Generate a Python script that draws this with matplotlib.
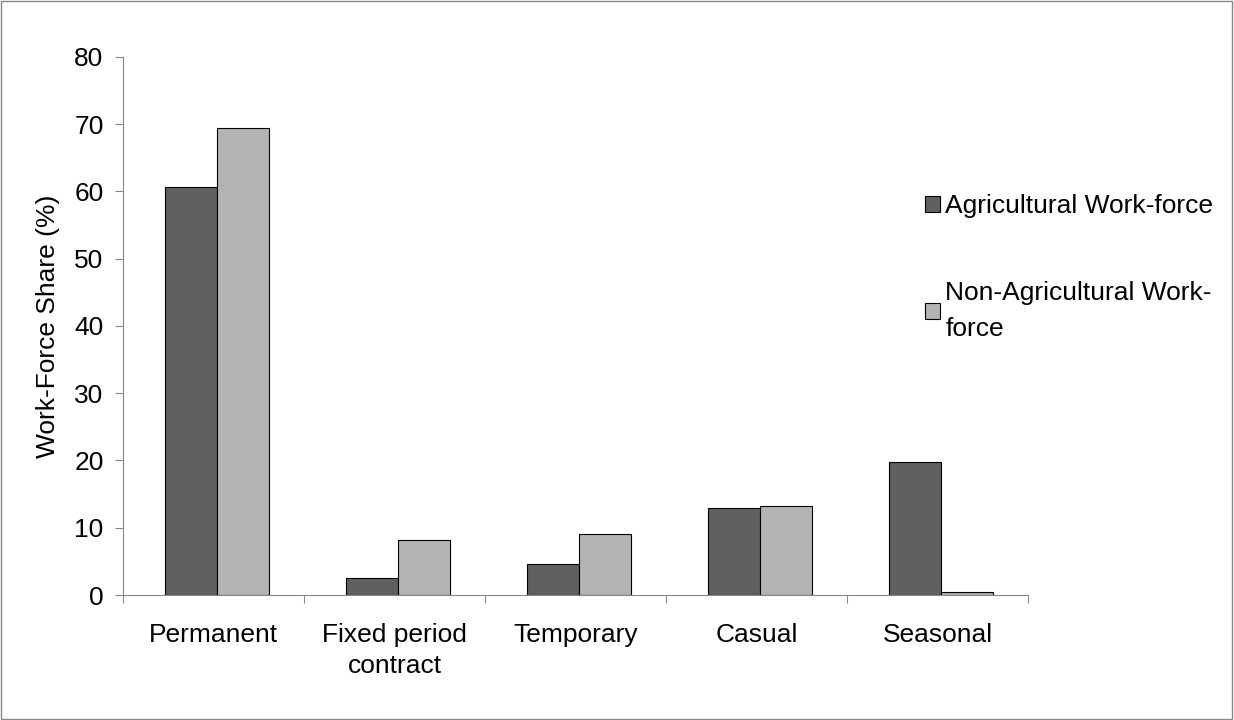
import numpy as np
import matplotlib.pyplot as plt
from matplotlib.patches import Rectangle

categories = ["Permanent", "Fixed period\ncontract", "Temporary", "Casual", "Seasonal"]
agri = [60.6, 2.5, 4.6, 12.9, 19.8]
non_agri = [69.4, 8.2, 9.1, 13.3, 0.4]
yticks = [0, 10, 20, 30, 40, 50, 60, 70, 80]

plt.rcParams['font.family'] = ['Liberation Sans', 'DejaVu Sans']
plt.rcParams['font.size'] = 19

fig = plt.figure(figsize=[12.34, 7.2], dpi=100)
fig.patches.append(Rectangle((0.001, 0.001), 0.997, 0.997, transform=fig.transFigure,
                             fill=False, edgecolor='#888888', linewidth=1))
ax = fig.add_axes([0.0997, 0.1736, 0.7333, 0.7474])

x = np.arange(len(categories))
w = 0.287
ax.bar(x - w/2 + 0.02, agri, w, color='#606060', edgecolor='black', linewidth=0.8,
       label='Agricultural Work-force')
ax.bar(x + w/2 + 0.02, non_agri, w, color='#b3b3b3', edgecolor='black', linewidth=0.8,
       label='Non-Agricultural Work-\nforce')

ax.set_xlim(-0.5, 4.5)
ax.set_ylim(0, 80)
ax.set_yticks(yticks)
ax.set_xticks(np.arange(-0.5, 5, 1))
ax.set_xticklabels([])
ax.set_xticks(x, minor=True)
ax.set_xticklabels(categories, minor=True, linespacing=1.4)
ax.tick_params(axis='x', which='minor', length=0, pad=20)
ax.tick_params(axis='x', which='major', length=6, color='#888888')
ax.tick_params(axis='y', length=6, color='#888888', pad=8)
ax.spines['top'].set_visible(False)
ax.spines['right'].set_visible(False)
ax.spines['left'].set_color('#888888')
ax.spines['bottom'].set_color('#888888')
ax.set_ylabel("Work-Force Share (%)", labelpad=10)

leg = ax.legend(loc='upper left', bbox_to_anchor=(0.875, 0.765), frameon=False,
                handlelength=0.55, handleheight=0.55, labelspacing=2.4, handletextpad=0.2,
                borderaxespad=0)
leg.get_texts()[1].set_linespacing(1.6)
plt.savefig("out.png")
